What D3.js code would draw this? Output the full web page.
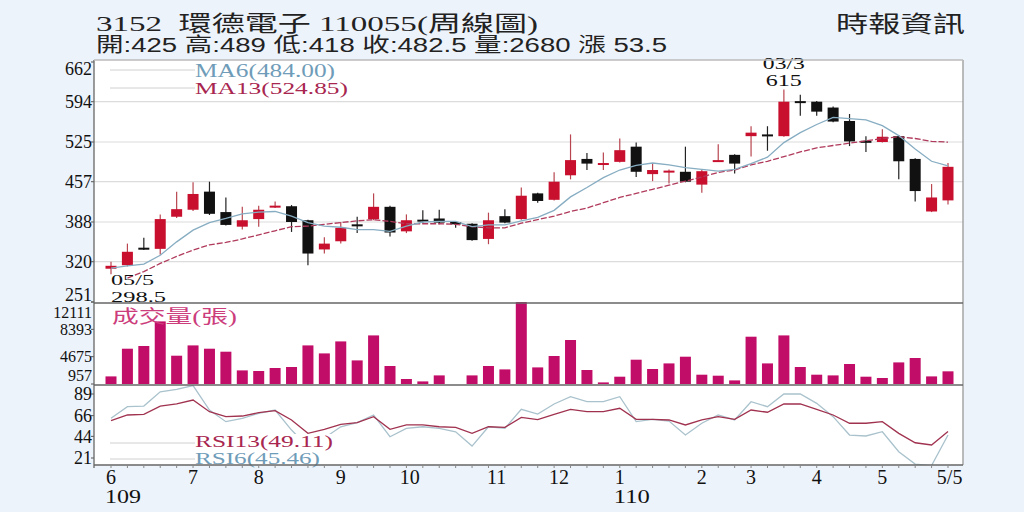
<!DOCTYPE html>
<html><head><meta charset="utf-8">
<script src="https://cdn.jsdelivr.net/npm/d3@7"></script>
<style>html,body{margin:0;padding:0;background:#edf3fa;} svg{display:block}</style>
</head><body>
<svg id="c" width="1024" height="512"></svg>
<script>
// ---- data (weekly candles, 52 weeks) ----
const openP  = [308,314,344,342,397,409,440,405,380,393,413,415,391,341,355,384,393,414,372,392,394,388,385,359,398,393,437,426,468,496,487,491,517,470,474,474,452,492,503,535,538,535,595,594,584,561,527,525,535,496,406,425];
const highP  = [320,351,361,401,440,456,457,430,414,416,423,417,392,362,388,397,437,416,401,408,409,389,386,404,410,447,438,473,538,506,507,531,524,488,478,517,477,521,504,552,552,615,606,595,586,573,535,547,537,497,453,489];
const lowP   = [298.5,312,340,332,395,407,400,382,375,380,412,371,314,334,351,369,391,363,369,386,384,378,356,350,386,392,421,425,461,477,477,490,465,458,454,456,438,491,471,500,510,534,570,570,559,518,508,524,461,423,405,418];
const closeP = [313,337,341,393,410,436,402,383,391,409,416,388,334,351,378,383,414,370,391,391,387,384,357,391,387,433,424,457,494,488,489,511,474,477,476,457,475,494,488,541,537,594,594,577,560,526,526,534,492,441,430,482.5];
const ma6    = [309,313,316,331,354,374,387,394,402,405,406,398,387,381,379,375,375,372,381,388,389,389,380,383,383,390,396,408,431,447,464,477,485,489,486,481,478,475,478,488,499,524,541,555,567,565,563,553,536,513,492,484];
const ma13   = [null,292,303,317,329,340,349,353,359,366,373,380,381,384,387,390,392,389,385,385,385,384,380,378,378,386,392,398,406,412,421,430,437,444,451,458,465,473,477,486,492,500,508,515,519,523,527,531,534,531,526,524.85];
const volume = [1991,5758,6125,9471,4806,6207,5758,5350,2807,2725,3133,3269,6207,5119,6751,4167,7567,3405,1637,1311,2127,900,2127,3405,2943,12111,3215,4765,6941,2861,1175,1950,4262,2997,3759,4670,2222,2086,1447,7390,3759,7567,3269,2222,2127,3677,1950,1773,3895,4493,1991,2680];
const rsi13  = [60.6,66.7,67.4,76.2,78.4,82.6,70.2,64.9,65.6,69.1,71.3,61.4,47.2,51.5,56.8,58.5,64.9,51.5,56.1,56.1,54.2,53.6,47.2,54.2,53.6,64.2,61.7,67.4,72.7,70.2,70.2,73.8,62.1,62.1,61.4,56.1,61.4,64.9,62.1,72.0,69.6,78.4,78.4,72.7,66.7,57.9,57.9,59.6,47.2,37.2,34.8,49.11];
const rsi6   = [63.2,75.5,76.2,91.4,94.0,98.0,72.0,59.6,63.2,68.5,72.0,50.7,33.0,42.2,54.2,58.5,66.7,43.6,52.5,54.2,52.5,48.9,33.7,54.2,52.5,72.7,67.7,78.4,86.1,80.8,80.8,86.1,59.6,62.1,60.3,45.4,57.9,66.7,61.4,80.8,75.5,89.0,89.0,79.1,64.9,45.4,44.4,48.9,27.7,14.6,13.0,45.46];
const priceTicks = [251,320,388,457,525,594,662];
const volTicks   = [957,4675,8393,12111];
const rsiTicks   = [21,44,66,89];
const monthLabels = ["6","7","8","9","10","11","12","1","2","3","4","5","5/5"];
const monthIndex  = [0,5,9,14,18.2,23.5,27.3,31,36,39,43,47,51.1];
const yearLabels  = ["109","110"];
const yearIndex   = [0,31];
const titleText = "3152  環德電子 110055(周線圖)";
const infoText  = "開:425 高:489 低:418 收:482.5 量:2680 漲 53.5";
const sourceText = "時報資訊";

// ---- layout ----
const L = 94, R = 963, T = 60, PB = 302, VB = 384, RB = 465;
const serif = "'Liberation Serif','Noto Sans CJK TC',serif";
const cjk = "'Liberation Serif','Noto Sans CJK TC',sans-serif";
const svg = d3.select("#c");
svg.append("rect").attr("width",1024).attr("height",512).attr("fill","#edf3fa");
svg.append("rect").attr("x",L).attr("y",T).attr("width",R-L).attr("height",RB-T).attr("fill","#fff");

const n = closeP.length;
const x = d3.scaleLinear().domain([0,n-1]).range([111,948]);
const yP = d3.scaleLinear().domain([251,662]).range([PB,62]);
const yV = d3.scaleLinear().domain([957,12111]).range([VB,PB]);
const yR = d3.scaleLinear().domain([21,89]).range([458,394]);

// grid
svg.append("g").selectAll("line").data(priceTicks.slice(1,-1)).join("line")
  .attr("x1",L).attr("x2",R).attr("y1",d=>yP(d)).attr("y2",d=>yP(d))
  .attr("stroke","#dcdcdc").attr("stroke-width",1.2);

// axis labels
function leftLabels(ticks, scale, top, bottom, size){
  const g = svg.append("g").attr("font-family",serif).attr("font-size",size).attr("fill","#111").attr("text-anchor","end");
  g.selectAll("text").data(ticks).join("text")
    .attr("x",92).attr("y",d=>Math.max(top, Math.min(bottom, scale(d)))).attr("dy","0.35em").text(d=>d);
  svg.append("g").selectAll("line").data(ticks).join("line")
    .attr("x1",L-3).attr("x2",L).attr("y1",d=>scale(d)).attr("y2",d=>scale(d)).attr("stroke","#555");
}
leftLabels(priceTicks, yP, T+9, PB-7, 18);
leftLabels(volTicks, yV, PB+10, VB-9, 16);
leftLabels(rsiTicks, yR, VB+9, RB-6, 18);

// candles
const candles = svg.append("g");
const cw = 11;
d3.range(n).forEach(i=>{
  const up = closeP[i] >= openP[i];
  const col = up ? "#c8102e" : "#111";
  candles.append("line").attr("x1",x(i)).attr("x2",x(i)).attr("y1",yP(highP[i])).attr("y2",yP(lowP[i]))
    .attr("stroke", up ? "#b8454f" : "#222").attr("stroke-width",1.2);
  const y0 = yP(Math.max(openP[i],closeP[i])), y1 = yP(Math.min(openP[i],closeP[i]));
  candles.append("rect").attr("x",x(i)-cw/2).attr("y",y0).attr("width",cw).attr("height",Math.max(2,y1-y0))
    .attr("fill",col);
});

// moving averages
const lineP = arr => d3.line().defined(d=>d!=null).x((d,i)=>x(i)).y(d=>yP(d))(arr);
svg.append("path").attr("d",lineP(ma13)).attr("fill","none").attr("stroke","#b03a5b").attr("stroke-width",1.3).attr("stroke-dasharray","6,2");
svg.append("path").attr("d",lineP(ma6)).attr("fill","none").attr("stroke","#87adc2").attr("stroke-width",1.3);

// price legend
svg.append("line").attr("x1",110).attr("x2",195).attr("y1",70).attr("y2",70).attr("stroke","#d0d0d0");
svg.append("line").attr("x1",110).attr("x2",195).attr("y1",88).attr("y2",88).attr("stroke","#d0d0d0");
svg.append("text").attr("x",195).attr("y",77).attr("font-family",serif).attr("font-size",18)
  .attr("fill","#6f9cb8").attr("textLength",140).attr("lengthAdjust","spacingAndGlyphs").text(`MA6(${ma6[n-1].toFixed(2)})`);
svg.append("text").attr("x",195).attr("y",94).attr("font-family",serif).attr("font-size",17)
  .attr("fill","#a8264f").attr("textLength",153).attr("lengthAdjust","spacingAndGlyphs").text(`MA13(${ma13[n-1].toFixed(2)})`);

// high / low annotations
const hiI = d3.maxIndex(highP), loI = d3.minIndex(lowP);
const ann = svg.append("g").attr("font-family",serif).attr("font-size",16).attr("fill","#111");
ann.append("text").attr("x",x(hiI)).attr("y",69).attr("text-anchor","middle").attr("textLength",42).attr("lengthAdjust","spacingAndGlyphs").text("03/3");
ann.append("text").attr("x",x(hiI)).attr("y",86).attr("text-anchor","middle").attr("textLength",36).attr("lengthAdjust","spacingAndGlyphs").text(highP[hiI]);
ann.append("text").attr("x",x(loI)).attr("y",285).attr("font-size",15).attr("textLength",43).attr("lengthAdjust","spacingAndGlyphs").text("05/5");
ann.append("text").attr("x",x(loI)).attr("y",302).attr("font-size",15).attr("textLength",55).attr("lengthAdjust","spacingAndGlyphs").text(lowP[loI]);

// volume
svg.append("g").selectAll("rect").data(volume).join("rect")
  .attr("x",(d,i)=>x(i)-5.5).attr("width",11)
  .attr("y",d=>yV(Math.max(957,d))).attr("height",d=>Math.max(0,VB-yV(Math.max(957,d))))
  .attr("fill","#c20d68");
svg.append("text").attr("x",112).attr("y",323).attr("font-family",cjk).attr("font-size",18)
  .attr("fill","#cc3d7c").attr("textLength",125).attr("lengthAdjust","spacingAndGlyphs").text("成交量(張)");

// RSI
svg.append("clipPath").attr("id","rc").append("rect").attr("x",L).attr("y",VB+1).attr("width",R-L).attr("height",RB-VB-1);
const lineR = d3.line().x((d,i)=>x(i)).y(d=>yR(d));
const rg = svg.append("g").attr("clip-path","url(#rc)");
rg.append("path").attr("d",lineR(rsi6)).attr("fill","none").attr("stroke","#a9c2cc").attr("stroke-width",1.3);
rg.append("path").attr("d",lineR(rsi13)).attr("fill","none").attr("stroke","#a0324f").attr("stroke-width",1.3);
svg.append("rect").attr("x",195).attr("y",434).attr("width",140).attr("height",30).attr("fill","#fff");
svg.append("line").attr("x1",110).attr("x2",195).attr("y1",443).attr("y2",443).attr("stroke","#d0d0d0");
svg.append("line").attr("x1",110).attr("x2",195).attr("y1",459).attr("y2",459).attr("stroke","#d0d0d0");
svg.append("text").attr("x",195).attr("y",447).attr("font-family",serif).attr("font-size",16)
  .attr("fill","#a8264f").attr("textLength",138).attr("lengthAdjust","spacingAndGlyphs").text(`RSI13(${rsi13[n-1].toFixed(2)})`);
svg.append("text").attr("x",195).attr("y",464).attr("font-family",serif).attr("font-size",16)
  .attr("fill","#6f9cb8").attr("textLength",125).attr("lengthAdjust","spacingAndGlyphs").text(`RSI6(${rsi6[n-1].toFixed(2)})`);

// frame
const fr = svg.append("g").attr("stroke","#666").attr("stroke-width",1.3);
fr.append("line").attr("x1",L).attr("x2",L).attr("y1",T).attr("y2",RB+3);
fr.append("line").attr("x1",R).attr("x2",R).attr("y1",T).attr("y2",RB).attr("stroke","#999");
fr.append("line").attr("x1",L).attr("x2",R).attr("y1",T).attr("y2",T).attr("stroke","#bbb");
fr.append("line").attr("x1",L).attr("x2",R).attr("y1",PB+1).attr("y2",PB+1);
fr.append("line").attr("x1",L).attr("x2",R).attr("y1",VB+1).attr("y2",VB+1);
fr.append("line").attr("x1",L).attr("x2",R).attr("y1",RB).attr("y2",RB);
svg.append("g").selectAll("line").data(d3.range(n)).join("line")
  .attr("x1",d=>x(d)).attr("x2",d=>x(d)).attr("y1",RB).attr("y2",RB+3).attr("stroke","#888");

// x labels
svg.append("g").attr("font-family",serif).attr("font-size",20).attr("fill","#111").attr("text-anchor","middle")
  .selectAll("text").data(monthLabels).join("text")
  .attr("x",(d,i)=>x(monthIndex[i])).attr("y",484).text(d=>d);
svg.append("g").attr("font-family",serif).attr("font-size",18).attr("fill","#111")
  .selectAll("text").data(yearLabels).join("text")
  .attr("x",(d,i)=>x(yearIndex[i])-6).attr("y",503).attr("textLength",36).attr("lengthAdjust","spacingAndGlyphs").text(d=>d);

// header
svg.append("text").attr("x",96).attr("y",31).attr("font-family",cjk).attr("font-size",22).attr("fill","#222")
  .attr("textLength",442).attr("lengthAdjust","spacingAndGlyphs").style("white-space","pre").text(titleText);
svg.append("text").attr("x",96).attr("y",52).attr("font-family","'Liberation Sans','Noto Sans CJK TC',sans-serif").attr("font-size",20).attr("fill","#222")
  .attr("textLength",571).attr("lengthAdjust","spacingAndGlyphs").text(infoText);
svg.append("text").attr("x",836).attr("y",32).attr("font-family","'Noto Sans CJK TC',sans-serif").attr("font-size",23).attr("fill","#222")
  .attr("textLength",129).attr("lengthAdjust","spacingAndGlyphs").text(sourceText);
</script>
</body></html>
